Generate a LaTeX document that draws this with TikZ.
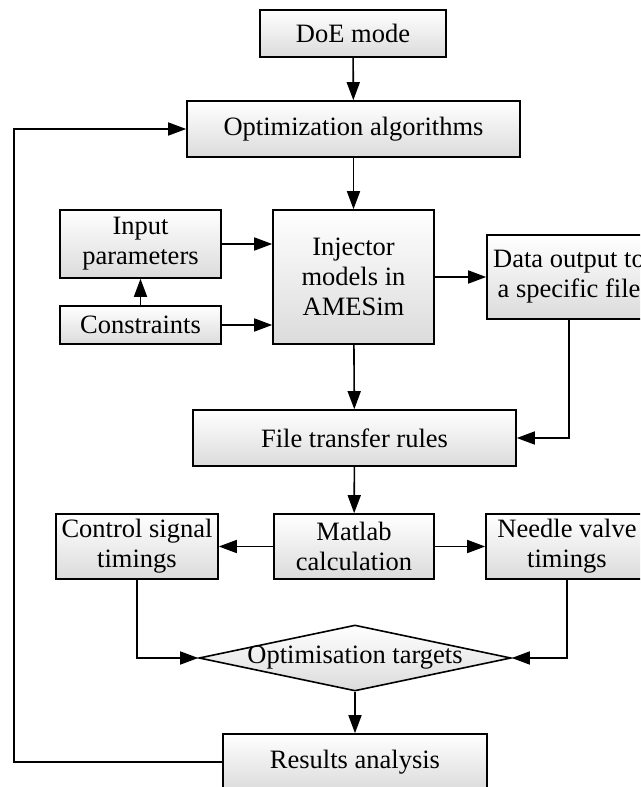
\documentclass[tikz,border=0pt]{standalone}
\usepackage{fontspec}
\setmainfont{Liberation Serif}
\usetikzlibrary{arrows.meta,shapes.geometric,positioning}

\begin{document}
\begin{tikzpicture}[x=1pt,y=-1pt,>={Triangle[length=18pt,width=13pt]},
	box/.style={draw,line width=1.6pt,top color=white,bottom color=black!14,inner sep=0pt,align=center,font=\fontsize{26.5}{30}\selectfont},
	target/.style={draw,diamond,line width=1.6pt,top color=white,bottom color=black!14,inner sep=0pt,minimum width=312,minimum height=66},
	flow/.style={line width=1.6pt,->}]
	%\draw [help lines] (0,0) grid [step=20] (640,787);
	\useasboundingbox (0,0) rectangle (640,787);
	\clip (0,0) rectangle (640,787);

	\node [box, minimum width=186, minimum height=47] (doe) at (353,33.5) {DoE mode};
	\node [box, minimum width=333, minimum height=56] (opt) at (353.5,129) {Optimization algorithms};
	\node [box, minimum width=161, minimum height=68] (inp) at (140.5,244) {Input\\parameters};
	\node [box, minimum width=161, minimum height=38] (con) at (140.5,325) {Constraints};
	\node [box, minimum width=161, minimum height=134] (inj) at (353.5,277) {Injector\\models in\\AMESim};
	\node [box, minimum width=164, minimum height=84] (dat) at (569,277) {Data output to\\a specific file};
	\node [box, minimum width=323, minimum height=56] (ftr) at (354.5,438) {File transfer rules};
	\node [box, minimum width=160, minimum height=65] (mat) at (354,546.5) {Matlab\\calculation};
	\node [box, minimum width=162, minimum height=65] (ctl) at (137,546.5) {Control signal\\timings};
	\node [box, minimum width=162, minimum height=65] (ndl) at (567,546.5) {Needle valve\\timings};
	\node [target] (tgt) at (355,658) {};
	\node [font=\fontsize{26.5}{30}\selectfont, inner sep=0pt] (tgttext) at (tgt.center) {Optimisation targets};
	\node [box, minimum width=264, minimum height=56] (res) at (355,762) {Results analysis};
	\coordinate (fb) at (14,762);

	\draw [flow] (doe) -- (opt);
	\draw [flow] (opt) -- (inj);
	\draw [flow] (inp.east) -- (inp.east -| inj.west);
	\draw [flow] (con.east) -- (con.east -| inj.west);
	\draw [flow] (con) -- (inp);
	\draw [flow] (inj.east) -- (dat.west);
	\draw [flow] (dat.south) |- (ftr.east);
	\draw [flow] (inj) -- (ftr);
	\draw [flow] (ftr) -- (mat);
	\draw [flow] (mat) -- (ctl);
	\draw [flow] (mat) -- (ndl);
	\draw [flow] (ctl.south) |- (tgt.west);
	\draw [flow] (ndl.south) |- (tgt.east);
	\draw [flow] (tgt) -- (res);
	\draw [flow] (res.west) -- (fb) |- (opt.west);
\end{tikzpicture}
\end{document}
